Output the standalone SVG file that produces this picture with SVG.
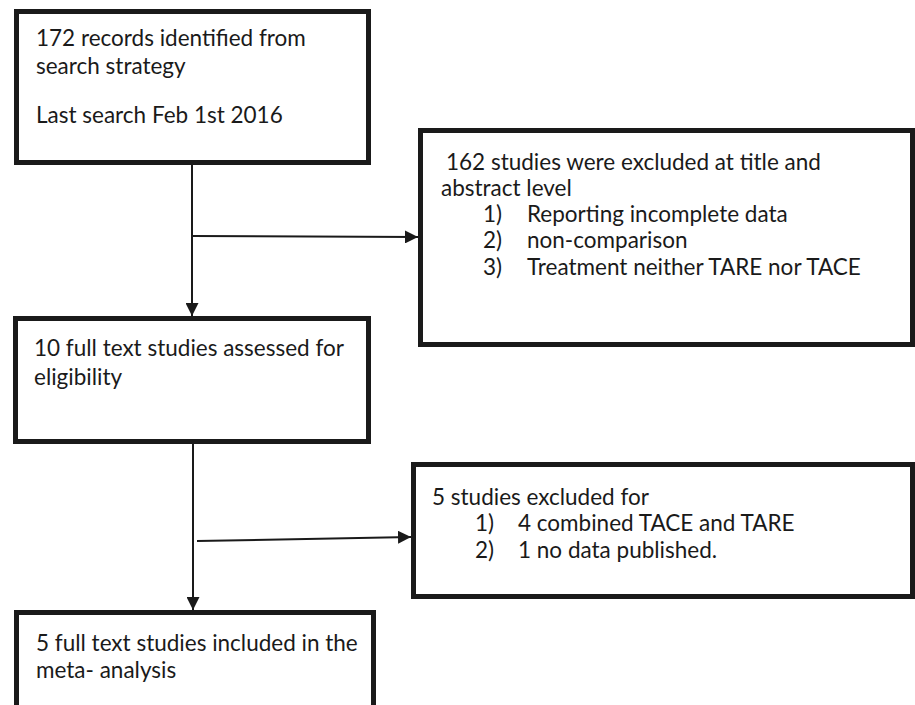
<svg xmlns="http://www.w3.org/2000/svg" width="915" height="705" viewBox="0 0 915 705">
<defs>
<style>
.box{fill:#fff;stroke:#1a1a1a;stroke-width:5}
.t{font-family:Lato,"Liberation Sans",sans-serif;font-size:22.5px;fill:#1a1a1a}
.c{stroke:#1a1a1a;stroke-width:2;fill:none}
</style>
<marker id="ah" viewBox="0 0 10 10" refX="10" refY="5" markerWidth="6.5" markerHeight="6.5" markerUnits="strokeWidth" orient="auto">
<path d="M0,0 L10,5 L0,10 z" fill="#1a1a1a"/>
</marker>
</defs>
<rect width="915" height="705" fill="#fff"/>
<g id="connectors">
<line class="c" x1="192" y1="165" x2="192" y2="316" marker-end="url(#ah)"/>
<line class="c" x1="192" y1="236" x2="418" y2="237" marker-end="url(#ah)"/>
<line class="c" x1="193" y1="444" x2="193" y2="610" marker-end="url(#ah)"/>
<line class="c" x1="197" y1="541" x2="411" y2="537" marker-end="url(#ah)"/>
</g>
<g id="n1">
<rect class="box" x="16.5" y="11.5" width="352" height="151"/>
<text class="t" x="36" y="46">172 records identified from</text>
<text class="t" x="36" y="74">search strategy</text>
<text class="t" x="36" y="123">Last search Feb 1st 2016</text>
</g>
<g id="n2">
<rect class="box" x="420.5" y="130.5" width="492" height="214"/>
<text class="t" x="446" y="170">162 studies were excluded at title and</text>
<text class="t" x="441" y="195.5">abstract level</text>
<text class="t" x="483" y="221.5">1)</text><text class="t" x="527" y="221.5">Reporting incomplete data</text>
<text class="t" x="483" y="248">2)</text><text class="t" x="527" y="248">non-comparison</text>
<text class="t" x="483" y="275">3)</text><text class="t" x="527" y="275">Treatment neither TARE nor TACE</text>
</g>
<g id="n3">
<rect class="box" x="15.5" y="318.5" width="353" height="123"/>
<text class="t" x="34" y="356">10 full text studies assessed for</text>
<text class="t" x="34" y="385">eligibility</text>
</g>
<g id="n4">
<rect class="box" x="413.5" y="464.5" width="499" height="132"/>
<text class="t" x="432" y="505">5 studies excluded for</text>
<text class="t" x="475" y="531">1)</text><text class="t" x="518" y="531">4 combined TACE and TARE</text>
<text class="t" x="475" y="558">2)</text><text class="t" x="518" y="558">1 no data published.</text>
</g>
<g id="n5">
<rect class="box" x="16.5" y="612.5" width="357" height="120"/>
<text class="t" x="36" y="651">5 full text studies included in the</text>
<text class="t" x="36" y="678">meta- analysis</text>
</g>
</svg>
